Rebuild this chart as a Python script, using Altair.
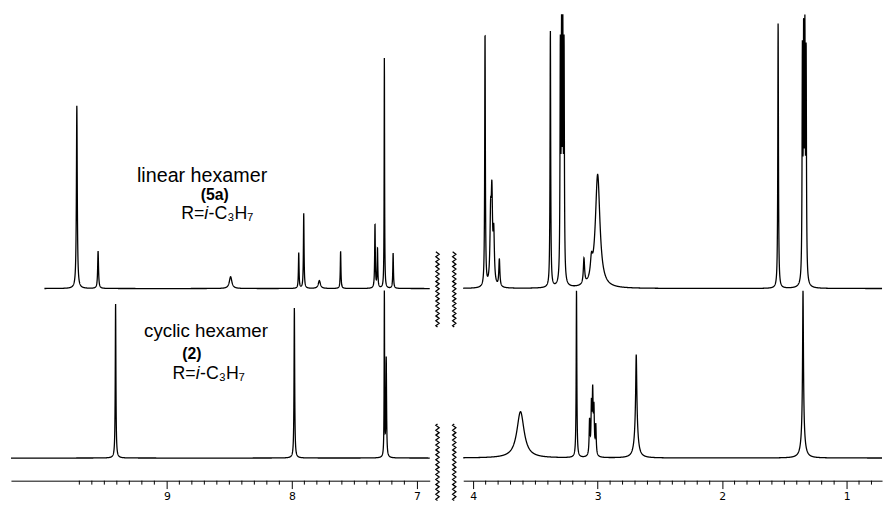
import altair as alt
import pandas as pd
import numpy as np

# ---- peak lists: position (ppm), height (px units), half width (ppm)
top_left_ppm = [9.72, 9.55, 8.49, 7.945, 7.905, 7.78, 7.61, 7.335, 7.315, 7.26, 7.19]
top_left_h   = [186, 38, 12, 36, 76, 8, 38, 65, 40, 236, 36]
top_left_w   = [0.004, 0.004, 0.012, 0.003, 0.003, 0.01, 0.003, 0.003, 0.003, 0.002, 0.003]

top_right_ppm = [3.905, 3.86, 3.85, 3.835, 3.79, 3.38, 3.30, 3.29, 3.28, 3.27, 3.11, 3.05, 3.00,
                 1.55, 1.355, 1.345, 1.335, 1.325]
top_right_h   = [258, 65, 85, 50, 28, 261, 230, 235, 235, 230, 26, 18, 115,
                 270, 225, 235, 235, 225]
top_right_w   = [0.003, 0.006, 0.006, 0.006, 0.005, 0.003, 0.003, 0.003, 0.003, 0.003, 0.006, 0.01, 0.022,
                 0.003, 0.003, 0.003, 0.003, 0.003]

bot_left_ppm = [9.41, 7.98, 7.26, 7.245]
bot_left_h   = [157, 153, 168, 100]
bot_left_w   = [0.003, 0.003, 0.002, 0.003]

bot_right_ppm = [3.62, 3.17, 3.065, 3.05, 3.04, 3.03, 3.015, 2.69, 2.69, 1.35, 1.35]
bot_right_h   = [47, 170, 35, 48, 60, 44, 30, 70, 35, 140, 30]
bot_right_w   = [0.035, 0.003, 0.004, 0.004, 0.004, 0.004, 0.004, 0.005, 0.015, 0.004, 0.015]

top_offset = 195
bot_offset = 23

left_domain = [6.897, 10.247]
right_domain = [0.715, 4.08]
top_left_start = 9.98

left_major = [9, 8, 7]
right_major = [4, 3, 2, 1]
left_minor = [round(7.0 + 0.1 * i, 1) for i in range(28) if i % 10 != 0]
right_minor = [round(0.8 + 0.1 * i, 1) for i in range(33) if (i - 2) % 10 != 0]

def trace(lo, hi, ppm, h, w, offset, name):
    x = np.arange(lo, hi, 0.0008)
    y = np.full_like(x, float(offset))
    for p, hh, ww in zip(ppm, h, w):
        y += hh / (1.0 + ((x - p) / ww) ** 2)
    return pd.DataFrame({"ppm": np.round(x, 4), "y": np.round(y, 2), "trace": name})

left_df = pd.concat([
    trace(left_domain[0], top_left_start, top_left_ppm, top_left_h, top_left_w, top_offset, "top"),
    trace(left_domain[0], left_domain[1], bot_left_ppm, bot_left_h, bot_left_w, bot_offset, "bottom"),
])
right_df = pd.concat([
    trace(right_domain[0], right_domain[1], top_right_ppm, top_right_h, top_right_w, top_offset, "top"),
    trace(right_domain[0], right_domain[1], bot_right_ppm, bot_right_h, bot_right_w, bot_offset, "bottom"),
])

def xaxis(vals):
    return alt.Axis(values=vals, title=None, grid=False, format="d", tickSize=8,
                    domainColor="black", tickColor="black", labelColor="black",
                    labelFont="DejaVu Sans", labelFontSize=11, labelPadding=2,
                    labelFlush=False, labelOverlap=False, domainWidth=1, tickWidth=1)

H = 470
yscale = alt.Scale(domain=[0, H], nice=False, zero=False)
lxscale = alt.Scale(domain=left_domain, reverse=True, nice=False, zero=False)
rxscale = alt.Scale(domain=right_domain, reverse=True, nice=False, zero=False)

def spectrum(df, xs, vals, width):
    return alt.Chart(df).mark_line(color="black", strokeWidth=1.3, interpolate="linear").encode(
        x=alt.X("ppm:Q", scale=xs, axis=xaxis(vals)),
        y=alt.Y("y:Q", scale=yscale, axis=None),
        detail="trace:N",
    ).properties(width=width, height=H)

def minor(vals, xs):
    return alt.Chart(pd.DataFrame({"ppm": vals})).mark_rule(color="black", strokeWidth=1, clip=False).encode(
        x=alt.X("ppm:Q", scale=xs), y=alt.value(H), y2=alt.value(H + 4))

# ---- labels (ppm, y in px units)
lab_center = pd.DataFrame({"text": ["linear hexamer"], "ppm": [8.718], "y": [303]})
lab_center2 = pd.DataFrame({"text": ["cyclic hexamer"], "ppm": [8.687], "y": [146]})
lab_bold = pd.DataFrame({"text": ["(5a)", "(2)"], "ppm": [8.616, 8.80], "y": [285, 123]})
lab_r = pd.DataFrame({"text": ["R=", "R="], "ppm": [8.70, 8.769], "y": [266, 103]})
lab_i = pd.DataFrame({"text": ["i", "i"], "ppm": [8.70, 8.769], "y": [266, 103]})
lab_rest = pd.DataFrame({"text": ["-C\u2083H\u2087", "-C\u2083H\u2087"], "ppm": [8.666, 8.735], "y": [266, 103]})

def textlayer(df, size=18, **kw):
    return alt.Chart(df).mark_text(font="Liberation Sans", fontSize=size, color="black",
                                   baseline="alphabetic", **kw).encode(
        x=alt.X("ppm:Q", scale=lxscale), y=alt.Y("y:Q", scale=yscale), text="text:N")

# ---- axis break squiggles
brk_x = [6.835, 6.701]
brk_y = [(233, 156), (58, -20)]
rows = []
k = 0
for bx in brk_x:
    for (y0, y1) in brk_y:
        ys = np.arange(y1, y0, 1.25)
        for j, yy in enumerate(ys):
            rows.append({"ppm": bx + 0.013 * np.sin(j * np.pi / 2), "y": yy, "seg": k})
        k += 1
brk_df = pd.DataFrame(rows)
breaks = alt.Chart(brk_df).mark_line(color="black", strokeWidth=1.3, clip=False).encode(
    x=alt.X("ppm:Q", scale=lxscale), y=alt.Y("y:Q", scale=yscale), detail="seg:N", order="y:Q")

left = alt.layer(
    spectrum(left_df, lxscale, left_major, 425),
    minor(left_minor, lxscale),
    textlayer(lab_center, size=20, align="center"),
    textlayer(lab_center2, size=19, align="center"),
    textlayer(lab_bold, size=16, align="center", fontWeight="bold"),
    textlayer(lab_r, align="right"),
    textlayer(lab_i, align="left", fontStyle="italic"),
    textlayer(lab_rest, align="left"),
    breaks,
)
right = alt.layer(
    spectrum(right_df, rxscale, right_major, 425),
    minor(right_minor, rxscale),
)

chart = alt.hconcat(left, right, spacing=34, bounds="flush").properties(padding=0).configure_view(strokeWidth=0)

chart.save("out.html", embed_options={"renderer": "svg", "actions": False})
